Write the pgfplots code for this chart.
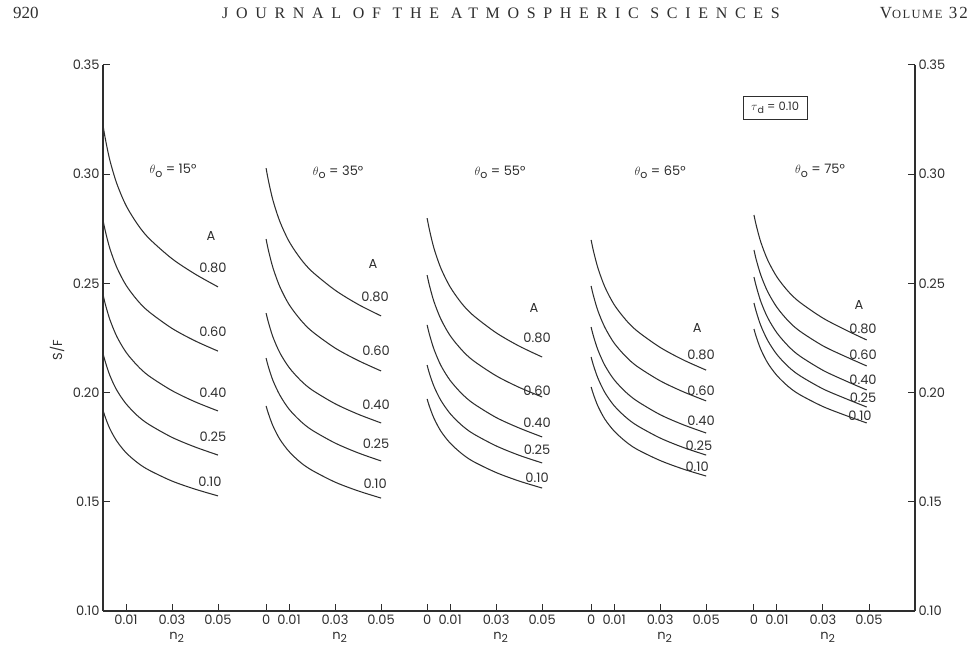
\documentclass[border=0pt]{standalone}
\usepackage{pgfplots}
\pgfplotsset{compat=1.18}
\usepackage{pgfplotstable}
\usepackage{fontspec}
\setmainfont{Liberation Serif}
\newfontfamily\lettering{Poppins}
\newfontfamily\spaced{Liberation Serif}[LetterSpace=48]
\newfontfamily\headsc{Liberation Serif}[LetterSpace=12]

\definecolor{ink}{gray}{0.18}

% S/F against n2 for five solar zenith angles; columns are albedo A
\pgfplotstableread{
n2    a80    a60    a40    a25    a10
0     0.3225 0.2790 0.2450 0.2180 0.1920
0.001 0.3163 0.2740 0.2405 0.2141 0.1887
0.003 0.3063 0.2659 0.2334 0.2078 0.1834
0.006 0.2957 0.2573 0.2257 0.2011 0.1778
0.010 0.2857 0.2492 0.2185 0.1949 0.1725
0.015 0.2771 0.2422 0.2123 0.1894 0.1679
0.020 0.2706 0.2370 0.2076 0.1854 0.1645
0.030 0.2613 0.2294 0.2009 0.1795 0.1595
0.040 0.2543 0.2237 0.1958 0.1751 0.1558
0.050 0.2484 0.2190 0.1916 0.1714 0.1527
}\thetaA
\pgfplotstableread{
n2    a80    a60    a40    a25    a10
0     0.3028 0.2703 0.2364 0.2158 0.1939
0.001 0.2971 0.2652 0.2322 0.2118 0.1904
0.003 0.2880 0.2571 0.2254 0.2055 0.1847
0.006 0.2783 0.2484 0.2182 0.1988 0.1786
0.010 0.2692 0.2403 0.2115 0.1924 0.1730
0.015 0.2613 0.2333 0.2056 0.1869 0.1680
0.020 0.2554 0.2280 0.2012 0.1828 0.1644
0.030 0.2469 0.2204 0.1949 0.1769 0.1590
0.040 0.2404 0.2147 0.1901 0.1724 0.1550
0.050 0.2351 0.2099 0.1861 0.1687 0.1517
}\thetaB
\pgfplotstableread{
n2    a80    a60    a40    a25    a10
0     0.2799 0.2538 0.2310 0.2126 0.1971
0.001 0.2746 0.2491 0.2267 0.2088 0.1937
0.003 0.2660 0.2416 0.2198 0.2028 0.1882
0.006 0.2569 0.2336 0.2124 0.1964 0.1823
0.010 0.2484 0.2261 0.2056 0.1904 0.1769
0.015 0.2409 0.2196 0.1996 0.1851 0.1721
0.020 0.2354 0.2147 0.1951 0.1812 0.1685
0.030 0.2274 0.2077 0.1886 0.1756 0.1634
0.040 0.2213 0.2024 0.1838 0.1713 0.1595
0.050 0.2163 0.1980 0.1797 0.1678 0.1563
}\thetaC
\pgfplotstableread{
n2    a80    a60    a40    a25    a10
0     0.2699 0.2488 0.2300 0.2163 0.2026
0.001 0.2649 0.2444 0.2259 0.2125 0.1992
0.003 0.2569 0.2373 0.2194 0.2065 0.1937
0.006 0.2483 0.2298 0.2124 0.2000 0.1878
0.010 0.2403 0.2227 0.2059 0.1940 0.1824
0.015 0.2334 0.2166 0.2003 0.1888 0.1776
0.020 0.2282 0.2120 0.1961 0.1849 0.1740
0.030 0.2207 0.2054 0.1899 0.1792 0.1689
0.040 0.2150 0.2004 0.1853 0.1749 0.1650
0.050 0.2103 0.1962 0.1815 0.1714 0.1618
}\thetaD
\pgfplotstableread{
n2    a80    a60    a40    a25    a10
0     0.2813 0.2653 0.2529 0.2410 0.2291
0.001 0.2765 0.2608 0.2486 0.2370 0.2255
0.003 0.2688 0.2537 0.2416 0.2306 0.2197
0.006 0.2606 0.2461 0.2342 0.2238 0.2135
0.010 0.2529 0.2390 0.2273 0.2174 0.2078
0.015 0.2462 0.2327 0.2212 0.2118 0.2027
0.020 0.2413 0.2281 0.2167 0.2077 0.1990
0.030 0.2341 0.2214 0.2102 0.2017 0.1936
0.040 0.2286 0.2164 0.2053 0.1972 0.1895
0.049 0.2241 0.2122 0.2012 0.1934 0.1861
}\thetaE

% panel offsets along the shared horizontal axis
\def\offA{0}
\def\offB{0.0709}
\def\offC{0.1409}
\def\offD{0.2122}
\def\offE{0.2830}

\newcommand\lab{\lettering\fontsize{13}{15}\selectfont}
\newcommand\thO[1]{$\theta$\raisebox{-0.45ex}{\fontsize{11}{11}\selectfont o}\ = #1°}
\newcommand\ntwo{n\raisebox{-0.5ex}{\fontsize{11}{11}\selectfont 2}}

\newcommand\panel[2]{%
  \addplot[curve] table[x expr=\thisrow{n2}+#2, y=a80]{#1};
  \addplot[curve] table[x expr=\thisrow{n2}+#2, y=a60]{#1};
  \addplot[curve] table[x expr=\thisrow{n2}+#2, y=a40]{#1};
  \addplot[curve] table[x expr=\thisrow{n2}+#2, y=a25]{#1};
  \addplot[curve] table[x expr=\thisrow{n2}+#2, y=a10]{#1};
}

\pgfplotsset{
  curve/.style={ink, line width=1.05pt, smooth, tension=0.5, no markers},
  sfaxis/.style={
    at={(103pt,35pt)}, anchor=south west,
    scale only axis, width=812pt, height=546pt,
    xmin=0, xmax=0.3530, ymin=0.10, ymax=0.35,
    axis line style={-, ink, line width=1.2pt},
    tick style={ink, line width=1pt},
    major tick length=7pt,
    tick align=inside,
    ytick={0.10,0.15,0.20,0.25,0.30,0.35},
    yticklabel style={font=\lab, text=ink,
      /pgf/number format/assume math mode=true,
      /pgf/number format/fixed, /pgf/number format/fixed zerofill,
      /pgf/number format/precision=2},
    clip=false,
  },
}

\begin{document}
\begin{tikzpicture}[x=1pt,y=1pt]
\useasboundingbox (0,0) rectangle (972,646);

% running head
\node[anchor=base west, inner sep=0, text=ink, font=\fontsize{17}{19}\selectfont] at (13,627) {920};
\node[anchor=base west, inner sep=0, text=ink, font=\spaced\fontsize{16}{19}\selectfont] at (222,627) {JOURNAL OF THE ATMOSPHERIC SCIENCES};
\node[anchor=base east, inner sep=0, text=ink, font=\headsc] at (968,627) {\fontsize{17}{19}\selectfont V\fontsize{12.5}{19}\selectfont OLUME\fontsize{17}{19}\selectfont\ 32};

\begin{axis}[sfaxis,
  axis x line*=bottom, axis y line*=left,
  xtick={0.01,0.03,0.05,
         0.0709,0.0809,0.1009,0.1209,
         0.1409,0.1509,0.1709,0.1909,
         0.2122,0.2222,0.2422,0.2622,
         0.2830,0.2930,0.3130,0.3330},
  xticklabels={0.01,0.03,0.05,
         0,0.01,0.03,0.05,
         0,0.01,0.03,0.05,
         0,0.01,0.03,0.05,
         0,0.01,0.03,0.05},
  xticklabel style={font=\lab, text=ink, yshift=-0.5pt},
]
\panel{\thetaA}{\offA}
\panel{\thetaB}{\offB}
\panel{\thetaC}{\offC}
\panel{\thetaD}{\offD}
\panel{\thetaE}{\offE}

\begin{scope}[every node/.style={font=\lab, text=ink}]
% zenith-angle headings
\node at (axis cs:0.0304,0.3015) {\thO{15}};
\node at (axis cs:0.1022,0.3010) {\thO{35}};
\node at (axis cs:0.1726,0.3010) {\thO{55}};
\node at (axis cs:0.2422,0.3010) {\thO{65}};
\node at (axis cs:0.3117,0.3015) {\thO{75}};
% albedo labels
\node at (axis cs:0.0470,0.2717) {A};
\node at (axis cs:0.0478,0.2570) {0.80};
\node at (axis cs:0.0478,0.2277) {0.60};
\node at (axis cs:0.0478,0.1998) {0.40};
\node at (axis cs:0.0478,0.1797) {0.25};
\node at (axis cs:0.0465,0.1591) {0.10};
\node at (axis cs:0.1174,0.2589) {A};
\node at (axis cs:0.1183,0.2438) {0.80};
\node at (axis cs:0.1187,0.2190) {0.60};
\node at (axis cs:0.1187,0.1943) {0.40};
\node at (axis cs:0.1187,0.1765) {0.25};
\node at (axis cs:0.1183,0.1582) {0.10};
\node at (axis cs:0.1874,0.2387) {A};
\node at (axis cs:0.1887,0.2250) {0.80};
\node at (axis cs:0.1887,0.2007) {0.60};
\node at (axis cs:0.1887,0.1861) {0.40};
\node at (axis cs:0.1887,0.1737) {0.25};
\node at (axis cs:0.1887,0.1609) {0.10};
\node at (axis cs:0.2583,0.2296) {A};
\node at (axis cs:0.2600,0.2172) {0.80};
\node at (axis cs:0.2600,0.2007) {0.60};
\node at (axis cs:0.2600,0.1870) {0.40};
\node at (axis cs:0.2591,0.1755) {0.25};
\node at (axis cs:0.2583,0.1659) {0.10};
\node at (axis cs:0.3287,0.2401) {A};
\node at (axis cs:0.3304,0.2291) {0.80};
\node at (axis cs:0.3304,0.2172) {0.60};
\node at (axis cs:0.3304,0.2058) {0.40};
\node at (axis cs:0.3304,0.1975) {0.25};
\node at (axis cs:0.3291,0.1893) {0.10};
% optical depth of the layer
\node[draw=ink, line width=0.9pt, minimum width=64pt, minimum height=23pt, inner sep=2pt,
      font=\lettering\fontsize{11.5}{13}\selectfont]
  at (axis cs:0.2922,0.3303) {$\tau$\raisebox{-0.5ex}{\fontsize{9.5}{10}\selectfont d}\ = 0.10};
% axis titles
\node[rotate=90] at (axis cs:-0.0200,0.2195) {S/F};
\node at (axis cs:0.0320,0.0880) {\ntwo};
\node at (axis cs:0.1029,0.0880) {\ntwo};
\node at (axis cs:0.1729,0.0880) {\ntwo};
\node at (axis cs:0.2442,0.0880) {\ntwo};
\node at (axis cs:0.3150,0.0880) {\ntwo};
\end{scope}
\end{axis}

% right-hand scale
\begin{axis}[sfaxis,
  axis y line*=right, axis x line=none,
]
\end{axis}
\end{tikzpicture}
\end{document}
